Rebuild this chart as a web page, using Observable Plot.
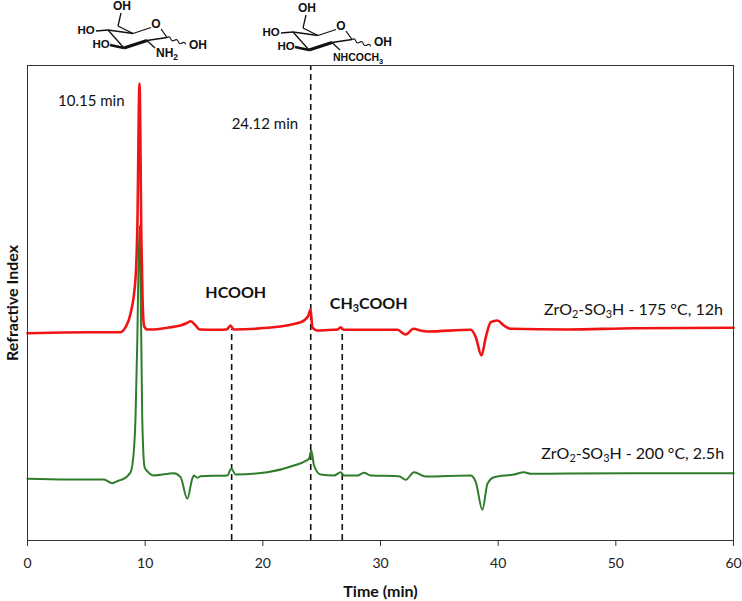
<!DOCTYPE html>
<html>
<head>
<meta charset="utf-8">
<script src="https://cdn.jsdelivr.net/npm/d3@7"></script>
<script src="https://cdn.jsdelivr.net/npm/@observablehq/plot@0.6"></script>
<style>
  body { margin: 0; background: #fff; }
  #wrap { position: relative; width: 742px; height: 601px; }
  #wrap svg.plot { position: absolute; left: 0; top: 0; }
  #mol { position: absolute; left: 0; top: 0; }
</style>
</head>
<body>
<div id="wrap"></div>
<script>
// ---- data (time in min, signal in arbitrary units) ----
const redTime = [0, 3.0, 6.0, 7.91, 8.33, 8.76, 9.18, 9.33, 9.52, 9.68, 9.78, 9.92, 10.2, 10.46, 12.0, 13.0, 13.55, 13.86, 14.29, 14.63, 16.13, 16.92, 17.26, 17.52, 20.38, 23.21, 23.83, 24.06, 24.21, 24.63, 26.02, 26.36, 26.62, 26.87, 31.44, 32.14, 32.82, 33.4, 33.99, 37.67, 38.1, 38.58, 38.95, 39.37, 39.94, 40.48, 41.07, 45.89, 51.53, 60];
const redSignal = [207.3, 208, 208.3, 208.3, 213.3, 227, 262, 310, 457, 300, 240, 214, 211, 211, 213, 215, 217.5, 219.3, 215, 211, 210.7, 211, 215, 211, 212.7, 218.3, 224, 230.7, 213.3, 210, 210.7, 211, 213.3, 210.7, 210.7, 206, 211.7, 210, 209, 210.7, 203.3, 185, 203.3, 218.3, 220, 215, 211.7, 211, 212.3, 212.7];

const greenTime = [0, 3.38, 6.49, 7.2, 7.76, 8.05, 8.76, 9.04, 9.18, 9.33, 9.52, 9.67, 9.75, 9.95, 10.18, 10.74, 12.44, 13.01, 13.58, 14.0, 14.14, 14.43, 14.71, 16.98, 17.32, 17.69, 20.38, 22.64, 23.92, 24.12, 24.35, 24.91, 26.05, 26.62, 26.9, 28.04, 28.6, 29.17, 31.57, 32.14, 32.85, 33.84, 37.67, 38.1, 38.66, 39.09, 39.65, 41.35, 42.2, 42.77, 45.89, 51.56, 60];
const greenSignal = [61.7, 61, 61, 57.3, 60, 61, 68.3, 90, 123, 200, 315, 200, 123, 73.3, 69.3, 65, 67.3, 63.3, 41.7, 61.7, 65, 62.7, 64.3, 65, 71.7, 66, 68.3, 75, 81.7, 90, 75, 66, 65, 68.3, 65, 65, 67.7, 65, 64.3, 60.7, 68.3, 64, 65, 58.3, 30.7, 56.7, 63.3, 66, 68.3, 66.7, 67, 67.3, 67.3];

const markerTimes = [17.35, 24.07, 26.75];
const markerTops = [211, 475, 211];

const xTicks = [0, 10, 20, 30, 40, 50, 60];

const seriesNames = ["ZrO₂-SO₃H - 175 °C, 12h", "ZrO₂-SO₃H - 200 °C, 2.5h"];
const seriesColors = ["#f01414", "#2f7d2a"];

// ---- tables built from the arrays ----
const red = redTime.map((t, i) => ({t, v: redSignal[i]}));
const green = greenTime.map((t, i) => ({t, v: greenSignal[i]}));
const markers = markerTimes.map((t, i) => ({t, top: markerTops[i]}));

const FONT = "Lato, 'Open Sans', sans-serif";

const chart = Plot.plot({
  width: 742,
  height: 601,
  marginLeft: 27,
  marginRight: 9,
  marginTop: 65,
  marginBottom: 61,
  style: {fontFamily: FONT, fontSize: "14px", color: "#222", background: "#fff"},
  x: {domain: [0, 60]},
  y: {domain: [0, 475], axis: null},
  marks: [
    Plot.ruleX(markers, {x: "t", y1: 0, y2: "top", stroke: "#111", strokeWidth: 1.6, strokeDasharray: "6,4"}),
    Plot.line(green, {x: "t", y: "v", stroke: seriesColors[1], strokeWidth: 2, curve: "monotone-x"}),
    Plot.line(red, {x: "t", y: "v", stroke: seriesColors[0], strokeWidth: 2.6, curve: "monotone-x"}),
    Plot.frame({stroke: "#333", strokeWidth: 1}),
    Plot.axisX({ticks: xTicks, tickSize: 6, tickPadding: 12, label: null, fontSize: 14, stroke: "#333"}),
    Plot.text(["10.15 min"], {x: 2.6, y: 439, text: d => d, textAnchor: "start", fontSize: 15, fill: "#111"}),
    Plot.text(["24.12 min"], {x: 23.0, y: 416, text: d => d, textAnchor: "end", fontSize: 15, fill: "#111"}),
    Plot.text(["HCOOH"], {x: 17.7, y: 248, text: d => d, fontSize: 16, fontWeight: "bold", fill: "#111"}),
    Plot.text(["CH₃COOH"], {x: 29.0, y: 237, text: d => d, fontSize: 16, fontWeight: "bold", fill: "#111"}),
    Plot.text([seriesNames[0]], {x: 59.1, y: 231, text: d => d, textAnchor: "end", fontSize: 16, fill: "#111"}),
    Plot.text([seriesNames[1]], {x: 59.2, y: 87, text: d => d, textAnchor: "end", fontSize: 16, fill: "#111"}),
    Plot.text(["Time (min)"], {frameAnchor: "bottom", dy: 51, lineAnchor: "middle", textAnchor: "middle", text: d => d, fontSize: 16, fontWeight: "bold", fill: "#111"}),
    Plot.text(["Refractive Index"], {frameAnchor: "left", dx: -15, rotate: -90, textAnchor: "middle", lineAnchor: "middle", text: d => d, fontSize: 16, fontWeight: "bold", fill: "#111"})
  ]
});
chart.classList.add("plot");
document.getElementById("wrap").appendChild(chart);

// turn unicode subscripts into real tspans
const subMap = {"₂": "2", "₃": "3"};
chart.querySelectorAll("text").forEach(el => {
  const s = el.textContent;
  if (!/[₂₃]/.test(s) || el.querySelector("tspan")) return;
  el.textContent = "";
  const parts = s.split(/([₂₃])/);
  let prevSub = false;
  parts.forEach(p => {
    if (!p) return;
    const ts = document.createElementNS("http://www.w3.org/2000/svg", "tspan");
    if (subMap[p]) {
      ts.textContent = subMap[p];
      ts.setAttribute("font-size", "0.68em");
      ts.setAttribute("dy", "0.35em");
      prevSub = true;
    } else {
      ts.textContent = p;
      if (prevSub) ts.setAttribute("dy", "-0.24em");
      prevSub = false;
    }
    el.appendChild(ts);
  });
});

// ---- molecule sketches above the plot ----
const NS = "http://www.w3.org/2000/svg";
const mol = document.createElementNS(NS, "svg");
mol.setAttribute("id", "mol");
mol.setAttribute("width", 742);
mol.setAttribute("height", 66);
document.getElementById("wrap").appendChild(mol);

function drawMolecule(dx, dy, nLabel, nSize, ohY, nY) {
  const g = document.createElementNS(NS, "g");
  g.setAttribute("transform", `translate(${dx},${dy})`);
  g.setAttribute("stroke", "#111");
  g.setAttribute("fill", "none");
  const C4 = [108, 30], C5 = [133, 33.5], C1 = [167, 37.5], C2 = [147, 40.5], C3 = [124, 48], C6 = [118, 26];
  const seg = (a, b, w) => {
    const l = document.createElementNS(NS, "line");
    l.setAttribute("x1", a[0]); l.setAttribute("y1", a[1]);
    l.setAttribute("x2", b[0]); l.setAttribute("y2", b[1]);
    l.setAttribute("stroke-width", w || 1.3);
    g.appendChild(l);
  };
  seg(C4, C5); seg(C5, [151, 27.5]); seg([161, 29], C1); seg(C1, C2);
  seg(C2, C3, 3.2); seg(C3, C4, 1.3); seg(C5, C6); seg(C6, [121, 13]);
  seg([96, 31], C4); seg([110, 45], C3, 2.8); seg(C2, [155, 48]);
  const wavy = document.createElementNS(NS, "path");
  wavy.setAttribute("d", "M167,37.5 q2,-2.5 4,0 q2,2.5 4,0 q2,-2.5 4,0 q2,2.5 4,0 q2,-2.5 4,0");
  wavy.setAttribute("stroke-width", 1.1);
  wavy.setAttribute("transform", "rotate(20 167 37.5)");
  g.appendChild(wavy);
  const txt = (x, y, s, anchor, size) => {
    const t = document.createElementNS(NS, "text");
    t.setAttribute("x", x); t.setAttribute("y", y);
    t.setAttribute("stroke", "none"); t.setAttribute("fill", "#111");
    t.setAttribute("font-family", "'Liberation Sans', Arial, sans-serif");
    t.setAttribute("font-size", size || 12); t.setAttribute("font-weight", "bold");
    t.setAttribute("text-anchor", anchor || "middle");
    t.setAttribute("dominant-baseline", "middle");
    const m = s.match(/^(.*?)(\d)$/);
    if (m) {
      t.textContent = m[1];
      const sub = document.createElementNS(NS, "tspan");
      sub.textContent = m[2]; sub.setAttribute("font-size", (size || 12) * 0.7); sub.setAttribute("dy", 4);
      t.appendChild(sub);
    } else t.textContent = s;
    g.appendChild(t);
  };
  txt(122, 7, "OH"); txt(86, 31, "HO", "middle", 11.5); txt(101, 45, "HO", "middle", 11.5); txt(156, 25, "O");
  txt(198, ohY, "OH"); txt(nLabel === "NH2" ? 156 : 148, nY, nLabel, "start", nSize);
  mol.appendChild(g);
}
drawMolecule(0, 0, "NH2", 12, 46, 54);
drawMolecule(185, 2, "NHCOCH3", 10.5, 41, 56);
</script>
</body>
</html>
